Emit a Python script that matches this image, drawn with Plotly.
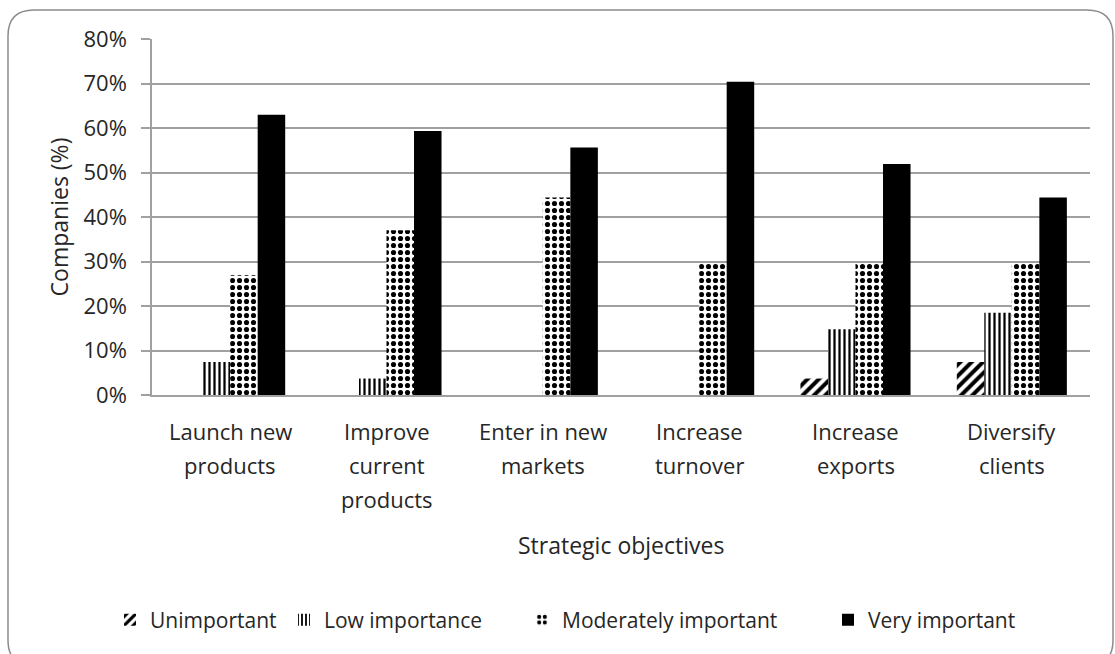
import plotly.graph_objects as go

# Survey data: share of companies rating each strategic objective
categories = [
    "Launch new products",
    "Improve current products",
    "Enter in new markets",
    "Increase turnover",
    "Increase exports",
    "Diversify clients",
]
category_lines = [
    ["Launch new", "products"],
    ["Improve", "current", "products"],
    ["Enter in new", "markets"],
    ["Increase", "turnover"],
    ["Increase", "exports"],
    ["Diversify", "clients"],
]
unimportant = [0.0, 0.0, 0.0, 0.0, 3.7, 7.4]
low_importance = [7.4, 3.7, 0.0, 0.0, 14.8, 18.5]
moderately_important = [26.9, 37.0, 44.4, 29.6, 29.6, 29.6]
very_important = [63.0, 59.3, 55.6, 70.4, 51.9, 44.4]
y_ticks = [0, 10, 20, 30, 40, 50, 60, 70, 80]

# Page geometry (pixels)
W, H = 1115, 654
ML, MR, MT, MB = 152, 25, 39, 259
PW, PH = W - ML - MR, H - MT - MB

FONT = "Open Sans"
TXT = "#262626"
GRID = "#a0a0a0"


def px(x):
    return (x - ML) / PW


def py(y):
    return (H - MB - y) / PH


series = [
    ("Unimportant", unimportant, dict(shape="/", size=8, solidity=0.5)),
    ("Low importance", low_importance, dict(shape="|", size=5, solidity=0.45)),
    ("Moderately important", moderately_important, dict(shape=".", size=7, solidity=0.42)),
    ("Very important", very_important, None),
]
# left edge of each legend entry (px)
legend_left = [110, 284, 522, 828]

fig = go.Figure()
for i, (name, vals, pat) in enumerate(series):
    if pat is None:
        marker = dict(color="black", line=dict(width=0))
    else:
        marker = dict(
            color="white",
            line=dict(width=0),
            pattern=dict(fgcolor="black", bgcolor="white", fillmode="replace", **pat),
        )
    legend_id = "legend" if i == 0 else f"legend{i + 1}"
    fig.add_trace(go.Bar(name=name, x=categories, y=vals, marker=marker, legend=legend_id))

# Multi-line category labels under each group
annotations = []
line_step = 34
first_line_y = 431
for cat, lines in zip(categories, category_lines):
    for k, line in enumerate(lines):
        annotations.append(dict(
            x=cat, xref="x", y=py(first_line_y + k * line_step), yref="paper",
            text=line, showarrow=False, xanchor="center", yanchor="middle",
            font=dict(family=FONT, size=22, color=TXT),
        ))

annotations.append(dict(
    x=px(621), xref="paper", y=py(545), yref="paper", text="Strategic objectives",
    showarrow=False, xanchor="center", yanchor="middle",
    font=dict(family=FONT, size=23, color=TXT),
))


# Rounded outer frame of the chart area
def rounded_rect(x0, y0, x1, y1, r):
    pts = [
        ("M", [(x0 + r, y0)]),
        ("L", [(x1 - r, y0)]),
        ("Q", [(x1, y0), (x1, y0 + r)]),
        ("L", [(x1, y1 - r)]),
        ("Q", [(x1, y1), (x1 - r, y1)]),
        ("L", [(x0 + r, y1)]),
        ("Q", [(x0, y1), (x0, y1 - r)]),
        ("L", [(x0, y0 + r)]),
        ("Q", [(x0, y0), (x0 + r, y0)]),
    ]
    out = []
    for cmd, coords in pts:
        out.append(cmd + " " + " ".join(f"{px(a):.5f},{py(b):.5f}" for a, b in coords))
    return " ".join(out) + " Z"


shapes = [dict(
    type="path", xref="paper", yref="paper",
    path=rounded_rect(8, 10, 1113, 666, 26),
    line=dict(color="#8c8c8c", width=1.5), layer="below",
)]

legend_common = dict(
    orientation="h", xanchor="left", y=py(620), yanchor="middle",
    font=dict(family=FONT, size=21, color=TXT), itemwidth=30,
    bgcolor="rgba(0,0,0,0)",
)
legends = {}
for i, left in enumerate(legend_left):
    key = "legend" if i == 0 else f"legend{i + 1}"
    legends[key] = dict(legend_common, x=px(left))

fig.update_layout(
    width=W, height=H,
    margin=dict(l=ML, r=MR, t=MT, b=MB, autoexpand=False),
    paper_bgcolor="white", plot_bgcolor="white",
    barmode="group", bargap=0.296, bargroupgap=0,
    font=dict(family=FONT, size=22, color=TXT),
    showlegend=True,
    annotations=annotations,
    shapes=shapes,
    xaxis=dict(
        showticklabels=False, ticks="", showgrid=False,
        showline=True, linecolor=GRID, linewidth=1.5,
        zeroline=False,
    ),
    yaxis=dict(
        range=[0, 80], tickvals=y_ticks, ticktext=[f"{v}%" for v in y_ticks],
        ticks="outside", ticklen=9, tickcolor=GRID, tickwidth=1.5,
        ticklabelstandoff=10,
        showgrid=True, gridcolor=GRID, gridwidth=1.5,
        showline=True, linecolor=GRID, linewidth=1.5,
        zeroline=False,
        tickfont=dict(family=FONT, size=22, color=TXT),
        title=dict(text="Companies (%)", standoff=8,
                   font=dict(family=FONT, size=23, color=TXT)),
    ),
    **legends,
)

fig.write_html("out.html")
